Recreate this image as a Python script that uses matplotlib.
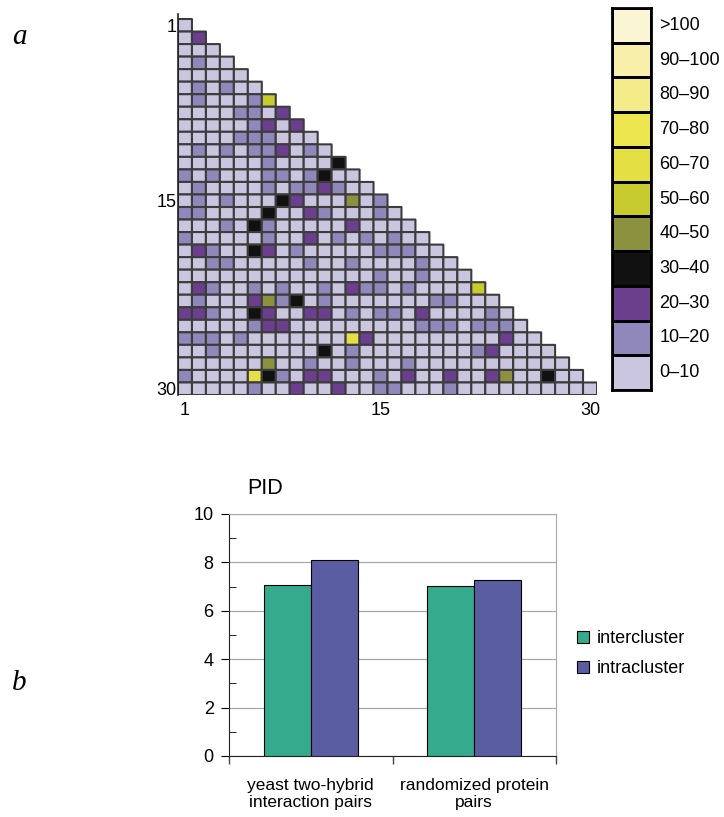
import numpy as np
import matplotlib
matplotlib.use("Agg")
import matplotlib.pyplot as plt
from matplotlib.colors import ListedColormap, BoundaryNorm
from matplotlib.patches import Patch

plt.rcParams['font.family'] = ['Liberation Sans', 'DejaVu Sans']

# bin index per cell (0 = 0-10, 1 = 10-20, ... 10 = >100), lower triangle row by row
pid_bins = [
    [0],
    [0, 2],
    [0, 0, 0],
    [0, 1, 0, 0],
    [0, 0, 0, 0, 0],
    [0, 1, 0, 1, 0, 0],
    [0, 1, 0, 0, 0, 1, 5],
    [0, 0, 0, 0, 1, 1, 0, 2],
    [0, 0, 0, 0, 0, 1, 2, 0, 2],
    [0, 0, 0, 0, 1, 1, 1, 0, 0, 0],
    [0, 1, 0, 1, 0, 1, 1, 2, 0, 1, 0],
    [0, 0, 0, 0, 0, 0, 1, 0, 0, 0, 0, 3],
    [1, 0, 1, 0, 0, 0, 1, 1, 0, 1, 3, 0, 0],
    [0, 1, 0, 0, 0, 0, 1, 0, 1, 1, 2, 1, 0, 0],
    [0, 1, 0, 1, 0, 0, 0, 3, 2, 0, 0, 0, 4, 0, 1],
    [1, 1, 0, 0, 0, 0, 3, 0, 0, 2, 1, 0, 0, 0, 1, 0],
    [0, 0, 0, 1, 0, 3, 1, 0, 0, 0, 0, 0, 2, 0, 0, 0, 0],
    [1, 0, 0, 0, 0, 0, 1, 0, 0, 2, 0, 1, 0, 1, 0, 1, 0, 0],
    [0, 2, 1, 0, 0, 3, 2, 0, 1, 0, 0, 0, 0, 0, 1, 1, 1, 0, 0],
    [0, 0, 1, 1, 0, 0, 0, 0, 0, 1, 0, 0, 1, 0, 0, 0, 0, 1, 0, 0],
    [0, 0, 0, 0, 0, 0, 0, 0, 0, 0, 0, 0, 0, 0, 1, 0, 0, 1, 0, 0, 0],
    [0, 2, 1, 0, 0, 1, 0, 1, 0, 0, 1, 0, 2, 1, 1, 0, 1, 0, 0, 0, 0, 5],
    [0, 1, 0, 0, 0, 2, 4, 1, 3, 0, 1, 0, 0, 0, 0, 0, 0, 0, 1, 1, 0, 0, 0],
    [2, 2, 1, 0, 0, 3, 2, 0, 0, 2, 2, 0, 1, 0, 1, 1, 0, 2, 0, 0, 0, 0, 1, 0],
    [0, 0, 0, 0, 0, 1, 2, 2, 0, 0, 0, 0, 0, 0, 0, 0, 0, 1, 1, 1, 0, 1, 1, 1, 0],
    [1, 1, 1, 0, 1, 0, 0, 0, 0, 0, 0, 0, 6, 2, 0, 0, 0, 0, 0, 0, 0, 0, 0, 2, 0, 0],
    [0, 0, 1, 0, 0, 0, 0, 0, 0, 0, 3, 0, 1, 0, 0, 0, 0, 0, 0, 0, 0, 1, 2, 0, 0, 0, 0],
    [0, 0, 0, 0, 0, 0, 4, 0, 0, 1, 0, 0, 1, 0, 0, 0, 1, 0, 0, 0, 0, 0, 0, 0, 0, 0, 0, 0],
    [1, 0, 0, 0, 0, 6, 3, 1, 0, 2, 2, 0, 0, 0, 1, 0, 2, 0, 0, 2, 0, 0, 2, 4, 0, 0, 3, 0, 0],
    [0, 0, 0, 0, 0, 1, 0, 0, 2, 0, 0, 2, 0, 0, 1, 1, 0, 0, 0, 1, 0, 0, 0, 0, 0, 0, 0, 0, 0, 0],
]
bin_labels = ["0\u201310", "10\u201320", "20\u201330", "30\u201340", "40\u201350", "50\u201360",
              "60\u201370", "70\u201380", "80\u201390", "90\u2013100", ">100"]
bin_colors = ["#cbc6df", "#9088bb", "#6c3f8e", "#111111", "#8c913f", "#c8cb2e",
              "#e4e043", "#eee64e", "#f3ec88", "#f8f0aa", "#faf6d4"]
axis_ticks = [1, 15, 30]

# panel b
groups = ["yeast two-hybrid\ninteraction pairs", "randomized protein\npairs"]
inter_vals = [7.05, 7.01]
intra_vals = [8.08, 7.26]

W, H = 724, 817
fig = plt.figure(figsize=(W / 100, H / 100), dpi=100)

def px_axes(x0, y0, x1, y1):
    return fig.add_axes([x0 / W, 1 - y1 / H, (x1 - x0) / W, (y1 - y0) / H])

cmap = ListedColormap(bin_colors)
norm = BoundaryNorm(np.arange(-0.5, 11.5, 1), cmap.N)

# ---- panel a: triangular matrix
n = len(pid_bins)
mat = np.full((n, n), np.nan)
for i, row in enumerate(pid_bins):
    mat[i, :len(row)] = row
mat = np.ma.masked_invalid(mat)

ax = px_axes(178, 14, 597, 395)
# pcolor leaves masked cells out completely (no edges)
ax.pcolor(np.arange(n + 1), np.arange(n + 1), mat, cmap=cmap, norm=norm,
          edgecolors="#3c3c3c", linewidth=1.5)
ax.set_xlim(0, n)
ax.set_ylim(n, -0.4)
ax.set_xticks([t - 0.5 for t in axis_ticks])
ax.set_xticklabels([str(t) for t in axis_ticks])
ax.set_yticks([t - 0.5 for t in axis_ticks])
ax.set_yticklabels([str(t) for t in axis_ticks])
ax.tick_params(axis="y", length=0, labelsize=13, pad=1)
ax.tick_params(axis="x", length=0, labelsize=13, pad=5)
for s in ["top", "right", "bottom"]:
    ax.spines[s].set_visible(False)
ax.spines["left"].set_color("#222222")
ax.spines["left"].set_linewidth(1.2)

# colour key
kax = px_axes(612, 8, 651, 390)
key = np.arange(len(bin_colors))[::-1].reshape(-1, 1)
kax.pcolormesh(key, cmap=cmap, norm=norm, edgecolors="black", linewidth=0.8)
kax.set_xlim(0, 1)
kax.set_ylim(len(bin_colors), 0)
kax.set_xticks([])
kax.set_yticks([])
for s in kax.spines.values():
    s.set_linewidth(2)
for i, lab in enumerate(bin_labels[::-1]):
    kax.text(1.22, i + 0.5, lab, va="center", ha="left", fontsize=13,
             transform=kax.transData, clip_on=False)

# ---- panel b: bar chart
bx = px_axes(229, 514, 556, 756)
x = np.arange(len(groups)) + 0.5
w = 0.2875
bx.bar(x - w / 2, inter_vals, w, color="#35aa8d", edgecolor="black", linewidth=0.8,
       label="intercluster", zorder=3)
bx.bar(x + w / 2, intra_vals, w, color="#5a5da1", edgecolor="black", linewidth=0.8,
       label="intracluster", zorder=3)
bx.set_xlim(0, len(groups))
bx.set_ylim(0, 10)
bx.set_yticks(np.arange(0, 11, 2))
bx.set_yticks(np.arange(1, 10, 2), minor=True)
bx.yaxis.grid(True, color="#a8a8a8", linewidth=0.9, zorder=0)
bx.set_xticks(np.arange(len(groups) + 1))
bx.set_xticklabels([])
bx.set_xticks(x, minor=True)
bx.set_xticklabels(groups, minor=True, fontsize=12.5, linespacing=1.15)
bx.tick_params(axis="x", which="minor", length=0, pad=16)
bx.tick_params(axis="x", which="major", length=6, width=1, color="#444444")
bx.tick_params(axis="y", which="major", length=6, labelsize=13, pad=5)
bx.tick_params(axis="y", which="minor", direction="in", length=5)
for s in ["top", "right"]:
    bx.spines[s].set_color("#a8a8a8")
for s in ["left", "bottom"]:
    bx.spines[s].set_color("#222222")

fig.text(247 / W, 1 - 488 / H, "PID", fontsize=15.5, va="center", ha="left")

handles = [Patch(facecolor="#35aa8d", edgecolor="black", linewidth=0.8),
           Patch(facecolor="#5a5da1", edgecolor="black", linewidth=0.8)]
fig.legend(handles, ["intercluster", "intracluster"], loc="upper left",
           bbox_to_anchor=(561 / W, 1 - 614 / H), frameon=False, fontsize=13,
           handlelength=0.65, handleheight=0.65, handletextpad=0.45, labelspacing=0.7)

fig.text(12 / W, 1 - 37 / H, "a", family="Liberation Serif", style="italic",
         fontsize=21, va="center", ha="left")
fig.text(12 / W, 1 - 683 / H, "b", family="Liberation Serif", style="italic",
         fontsize=21, va="center", ha="left")

fig.savefig("out.png", dpi=100)
